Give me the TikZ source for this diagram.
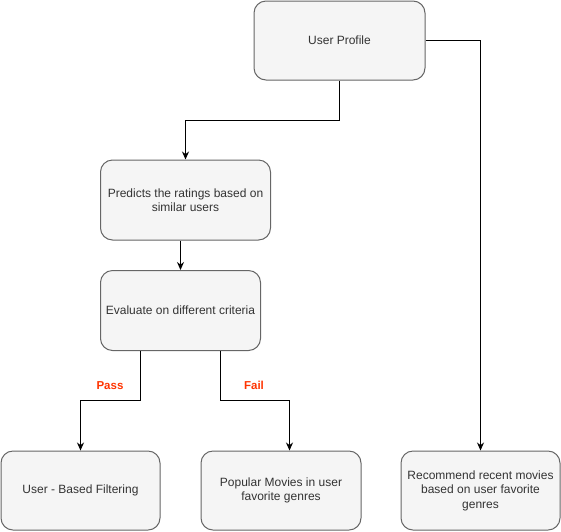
\documentclass[tikz,border=0pt]{standalone}
\usepackage{fontspec}
\setmainfont{Liberation Sans}
\usetikzlibrary{arrows.meta}
\definecolor{boxfill}{HTML}{F5F5F5}
\definecolor{boxline}{HTML}{666666}
\definecolor{boxtext}{HTML}{333333}
\definecolor{labelred}{HTML}{FF3300}
\begin{document}
\begin{tikzpicture}[x=1pt,y=-1pt,
  box/.style={draw=boxline, fill=boxfill, text=boxtext, rounded corners=12pt,
    line width=1pt, align=center, inner sep=0pt, font=\fontsize{12}{14.5}\selectfont},
  link/.style={draw=black, line width=1pt, -{Stealth[length=8pt,width=7pt]}},
  cond/.style={text=labelred, font=\bfseries\fontsize{11.5}{13}\selectfont}]
\useasboundingbox (0,0) rectangle (561,531);
% boxes
\node[box, minimum width=171pt, minimum height=79pt] (profile) at (339.5,40.5) {User Profile};
\node[box, minimum width=170pt, minimum height=80pt] (predict) at (185.5,200) {Predicts the ratings based on\\similar users};
\node[box, minimum width=160pt, minimum height=80pt] (eval) at (180.5,310.5) {Evaluate on different criteria};
\node[box, minimum width=159pt, minimum height=79pt] (ubf) at (80.5,490.5) {User - Based Filtering};
\node[box, minimum width=160pt, minimum height=79pt] (pop) at (281,490.5) {Popular Movies in user\\favorite genres};
\node[box, minimum width=159pt, minimum height=79pt] (rec) at (480.5,490.5) {Recommend recent movies\\based on user favorite\\genres};
% helper points for the bends
\coordinate (p1) at (339.5,120);
\coordinate (p2) at (185.5,120);
\coordinate (q1) at (140.5,400);
\coordinate (q2) at (80.5,400);
\coordinate (r1) at (220.5,400);
\coordinate (r2) at (289.5,400);
% connectors
\draw[link] (profile.south) -- (p1) -- (p2) -- (predict.north);
\draw[link] (profile.east) -| (rec.north);
\draw[link] (predict.south -| eval.north) -- (eval.north);
\draw[link] (eval.south -| q1) -- (q1) -- (q2) -- (ubf.north);
\draw[link] (eval.south -| r1) -- (r1) -- (r2) -- (r2 |- pop.north);
% condition labels
\node[cond] (pass) at (110,385.5) {Pass};
\node[cond] (fail) at (254,385.5) {Fail};
\end{tikzpicture}
\end{document}
